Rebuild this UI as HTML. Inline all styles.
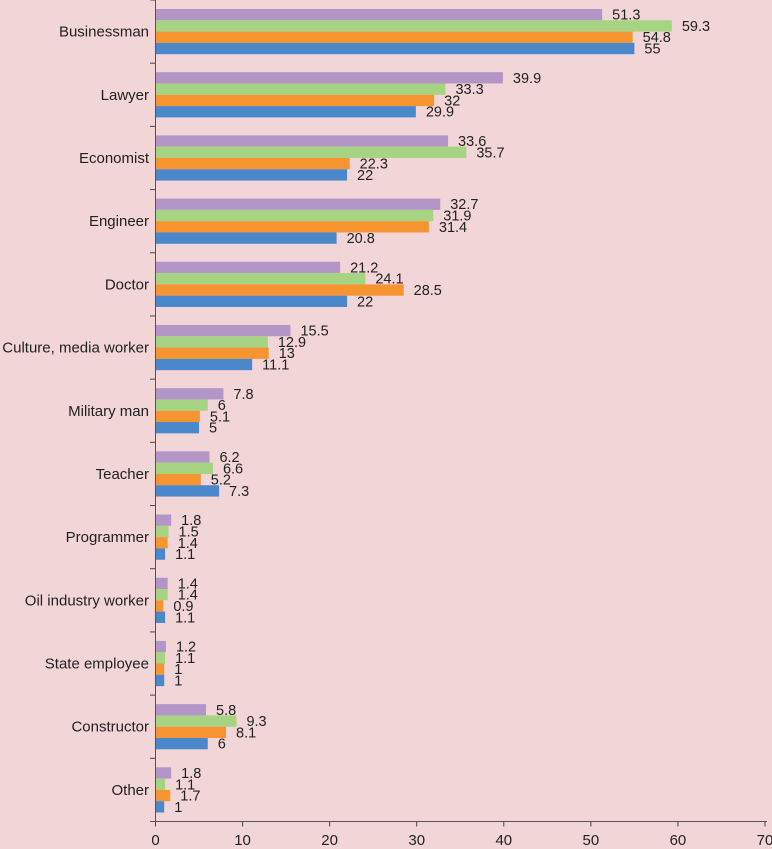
<!DOCTYPE html>
<html><head><meta charset="utf-8"><style>
html,body{margin:0;padding:0;background:#f2d5d6;}
svg{display:block;font-family:"Liberation Sans",sans-serif;}
</style></head><body>
<svg id="chart" width="772" height="849" xmlns="http://www.w3.org/2000/svg">
<rect x="0" y="0" width="772" height="849" fill="#f2d5d6"/>
<g id="bars"></g>
<g id="axes"></g>
</svg>
<script>
const categories=["Businessman","Lawyer","Economist","Engineer","Doctor","Culture, media worker","Military man","Teacher","Programmer","Oil industry worker","State employee","Constructor","Other"];
const seriesPurple=[51.3,39.9,33.6,32.7,21.2,15.5,7.8,6.2,1.8,1.4,1.2,5.8,1.8];
const seriesGreen=[59.3,33.3,35.7,31.9,24.1,12.9,6,6.6,1.5,1.4,1.1,9.3,1.1];
const seriesOrange=[54.8,32,22.3,31.4,28.5,13,5.1,5.2,1.4,0.9,1,8.1,1.7];
const seriesBlue=[55,29.9,22,20.8,22,11.1,5,7.3,1.1,1.1,1,6,1];
const xTicks=[0,10,20,30,40,50,60,70];

const NS="http://www.w3.org/2000/svg";
const x0=155.5,x1=765,xMax=70,yTop=0,yBot=821.5;
const band=(yBot-yTop)/categories.length;
const barH=11.3,barOff=(band-4*barH)/2;
function xs(v){return x0+v/xMax*(x1-x0);}
function yb(i,k){return yTop+i*band+barOff+k*barH;}
const series=[{v:seriesPurple,c:"#b495c8",n:"purple"},{v:seriesGreen,c:"#a7d483",n:"green"},{v:seriesOrange,c:"#f79432",n:"orange"},{v:seriesBlue,c:"#4a87cb",n:"blue"}];
const bars=document.getElementById('bars'),axes=document.getElementById('axes');
function mk(t,a,p){const e=document.createElementNS(NS,t);for(const k in a)e.setAttribute(k,a[k]);p.appendChild(e);return e;}
categories.forEach((c,i)=>{
  series.forEach((s,k)=>{
    const y=yb(i,k);
    const r=mk('rect',{x:x0,y:y,width:xs(s.v[i])-x0,height:barH,fill:s.c},bars);
    
    
    const t=mk('text',{x:xs(s.v[i])+10,y:y+barH/2+5,'font-size':'14.5',fill:'#222'},bars);
    t.textContent=s.v[i];
    
    
  });
  const l=mk('text',{x:149,y:yTop+i*band+band/2+5,'font-size':'15','text-anchor':'end',fill:'#222'},axes);
  l.textContent=c;
  
  
});
for(let i=0;i<=categories.length;i++){
  const tk=mk('line',{x1:150,x2:x0,y1:yTop+i*band,y2:yTop+i*band,stroke:'#444','stroke-width':1},axes);
  
  
}
const ya=mk('line',{x1:x0,x2:x0,y1:0,y2:yBot,stroke:'#555','stroke-width':1},axes);


const xa=mk('line',{x1:150,x2:x1+2,y1:yBot,y2:yBot,stroke:'#555','stroke-width':1},axes);


xTicks.forEach(v=>{
  const tk=mk('line',{x1:xs(v),x2:xs(v),y1:yBot,y2:yBot+5,stroke:'#444','stroke-width':1},axes);
  
  
  const t=mk('text',{x:xs(v),y:845,'font-size':'15','text-anchor':'middle',fill:'#222'},axes);
  t.textContent=v;
  
  
});
</script>
</body></html>
